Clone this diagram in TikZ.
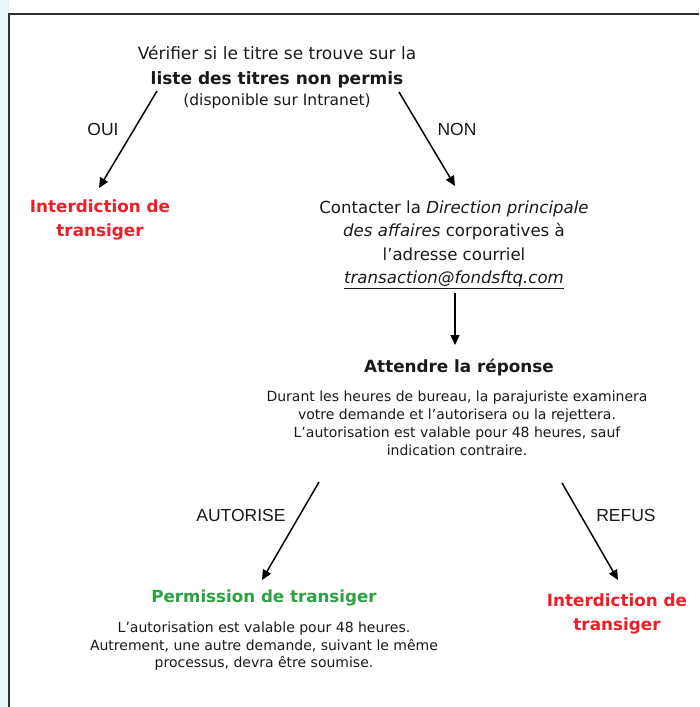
\documentclass[tikz,border=0pt]{standalone}
\usepackage{fontspec}
\setmainfont{DejaVu Sans}
\newfontfamily\labfont{Liberation Sans}
\usetikzlibrary{arrows.meta}
\definecolor{redx}{RGB}{237,30,40}
\definecolor{greenx}{RGB}{46,160,70}
\definecolor{framec}{RGB}{50,50,50}
\definecolor{bgc}{RGB}{232,246,248}
\definecolor{txtc}{RGB}{25,25,25}
\begin{document}
\begin{tikzpicture}[x=1pt,y=-1pt,
  txt/.style={align=center, inner sep=0pt, anchor=base, text=txtc, font=\fontsize{16.8}{24}\selectfont},
  small/.style={align=center, inner sep=0pt, anchor=base, text=txtc, font=\fontsize{14}{18}\selectfont},
  redt/.style={align=center, inner sep=0pt, anchor=base, text=redx, font=\fontsize{16.8}{24}\selectfont\bfseries},
  greent/.style={align=center, inner sep=0pt, anchor=base, text=greenx, font=\fontsize{16.7}{24}\selectfont\bfseries},
  lab/.style={inner sep=0pt, anchor=base, text=txtc, font=\labfont\fontsize{17.5}{20}\selectfont},
  arr/.style={line width=1.5pt, draw=black, -{Triangle[length=10pt,width=9pt]}},
]
\useasboundingbox (0,0) rectangle (699,707);
\fill[bgc] (0,0) rectangle (8.5,707);
\draw[framec, line width=1.6pt] (9,707) -- (9,14) -- (699,14);

\node[txt, font=\fontsize{17}{25}\selectfont] (verif) at (277,84) {Vérifier si le titre se trouve sur la\\\textbf{liste des titres non permis}};
\node[txt, font=\fontsize{15.5}{18}\selectfont] (dispo) at (277,105) {(disponible sur Intranet)};

\node[redt] (interd1) at (100,236) {Interdiction de\\transiger};

\node[txt, font=\fontsize{16.6}{23.5}\selectfont] (contact) at (454,283.5) {Contacter la \textit{Direction principale}\\\textit{des affaires} corporatives à\\l’adresse courriel\\\textit{\underline{transaction@fondsftq.com}}};

\node[txt] (attendre) at (459,372) {\textbf{Attendre la réponse}};

\node[small] (durant) at (457,455.5) {Durant les heures de bureau, la parajuriste examinera\\votre demande et l’autorisera ou la rejettera.\\L’autorisation est valable pour 48 heures, sauf\\indication contraire.};

\node[greent] (perm) at (264,602) {Permission de transiger};
\node[small, font=\fontsize{14}{17.5}\selectfont] (autor) at (264,667.5) {L’autorisation est valable pour 48 heures.\\Autrement, une autre demande, suivant le même\\processus, devra être soumise.};

\node[redt] (interd2) at (617,630) {Interdiction de\\transiger};

\node[lab] (oui) at (103,135) {OUI};
\node[lab] (non) at (457,135) {NON};
\node[lab] (autorise) at (241,521) {AUTORISE};
\node[lab] (refus) at (626,521) {REFUS};

\coordinate (a1s) at (157,91);  \coordinate (a1e) at (99,188);
\coordinate (a2s) at (399,92);  \coordinate (a2e) at (455,186);
\coordinate (a3s) at (455,293); \coordinate (a3e) at (455,345);
\coordinate (a4s) at (319,482); \coordinate (a4e) at (262,580);
\coordinate (a5s) at (562,483); \coordinate (a5e) at (618,580);
\draw[arr] (a1s) -- (a1e);
\draw[arr] (a2s) -- (a2e);
\draw[arr] (a3s) -- (a3e);
\draw[arr] (a4s) -- (a4e);
\draw[arr] (a5s) -- (a5e);
\end{tikzpicture}
\end{document}
